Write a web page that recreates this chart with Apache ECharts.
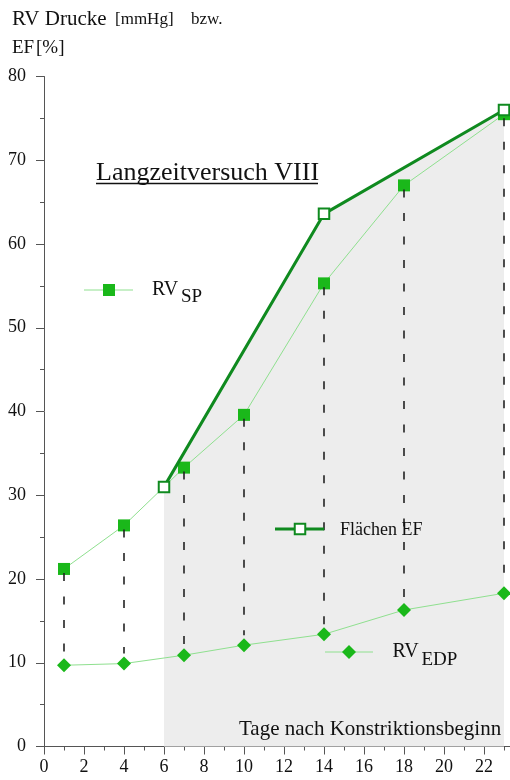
<!DOCTYPE html>
<html>
<head>
<meta charset="utf-8">
<script src="https://cdn.jsdelivr.net/npm/echarts@6/dist/echarts.min.js"></script>
<style>
  html, body { margin: 0; padding: 0; background: #fff; }
  #chart { width: 510px; height: 780px; }
</style>
</head>
<body>
<div id="chart"></div>
<script>
// Days after the start of constriction
const days = [1, 4, 7, 10, 14, 18, 23];
// Right-ventricular systolic pressure [mmHg]
const rvSP = [21.2, 26.4, 33.3, 39.6, 55.3, 67.0, 75.5];
// Right-ventricular end-diastolic pressure [mmHg]
const rvEDP = [9.7, 9.9, 10.9, 12.1, 13.4, 16.3, 18.3];
// Area ejection fraction [%]
const efDays = [6, 14, 23];
const efValues = [31.0, 63.6, 76.0];
// Axis ticks
const xTicks = [0, 2, 4, 6, 8, 10, 12, 14, 16, 18, 20, 22];
const yTicks = [0, 10, 20, 30, 40, 50, 60, 70, 80];

const SERIF = '"Liberation Serif", "Times New Roman", serif';
const MARK = '#1ab81a';
const LIGHT = '#8fe08f';
const DARK = '#0f8a1f';

const chart = echarts.init(document.getElementById('chart'), null, { renderer: 'canvas' });

const spData = days.map((d, i) => [d, rvSP[i]]);
const edpData = days.map((d, i) => [d, rvEDP[i]]);
const efData = efDays.map((d, i) => [d, efValues[i]]);
const dashData = days.map((d, i) => [d, rvSP[i], rvEDP[i]]);

const option = {
  animation: false,
  backgroundColor: '#fff',
  // the x axis runs on past the right edge of the canvas
  grid: { left: 44, right: -14, top: 76.5, bottom: 33.5, containLabel: false, outerBoundsMode: 'none' },
  xAxis: {
    type: 'value',
    min: 0, max: 24, interval: 2,
    axisLine: { lineStyle: { color: '#555', width: 1 } },
    axisTick: { length: 8, lineStyle: { color: '#555' } },
    minorTick: { show: true, splitNumber: 2, length: 4, lineStyle: { color: '#555' } },
    splitLine: { show: false },
    axisLabel: {
      margin: 12,
      fontFamily: SERIF, fontSize: 18, color: '#111',
      formatter: v => (xTicks.indexOf(v) >= 0 ? String(v) : '')
    }
  },
  yAxis: {
    type: 'value',
    min: 0, max: 80, interval: 10,
    axisLine: { show: true, lineStyle: { color: '#555', width: 1 } },
    axisTick: { show: true, length: 8, lineStyle: { color: '#555' } },
    minorTick: { show: true, splitNumber: 2, length: 4, lineStyle: { color: '#555' } },
    splitLine: { show: false },
    axisLabel: {
      margin: 18,
      fontFamily: SERIF, fontSize: 18, color: '#111',
      formatter: v => (yTicks.indexOf(v) >= 0 ? String(v) : '')
    }
  },
  series: [
    {
      // shaded region under the EF curve
      type: 'line',
      data: efData,
      symbol: 'none',
      lineStyle: { opacity: 0 },
      areaStyle: { color: '#ededed', opacity: 1 },
      z: 1,
      silent: true
    },
    {
      name: 'RV SP',
      type: 'line',
      data: spData,
      symbol: 'rect',
      symbolSize: 12,
      lineStyle: { color: LIGHT, width: 1 },
      itemStyle: { color: MARK },
      z: 3
    },
    {
      name: 'RV EDP',
      type: 'line',
      data: edpData,
      symbol: 'diamond',
      symbolSize: 14,
      lineStyle: { color: LIGHT, width: 1 },
      itemStyle: { color: MARK },
      z: 3
    },
    {
      name: 'Flächen EF',
      type: 'line',
      data: efData,
      symbol: 'rect',
      symbolSize: 10.5,
      lineStyle: { color: DARK, width: 3 },
      itemStyle: { color: '#fff', borderColor: DARK, borderWidth: 2 },
      z: 4
    },
    {
      // dashed connectors from SP down to just above EDP of the same day
      type: 'custom',
      data: dashData,
      z: 5,
      renderItem: function (params, api) {
        const top = api.coord([api.value(0), api.value(1)]);
        const bot = api.coord([api.value(0), api.value(2)]);
        return {
          type: 'line',
          shape: { x1: top[0], y1: top[1] + 4, x2: bot[0], y2: bot[1] - 10 },
          style: { stroke: '#222', lineWidth: 1.6, lineDash: [8, 15.5] }
        };
      }
    }
  ],
  graphic: [
    // y-axis caption
    { type: 'text', style: { text: 'RV Drucke', x: 12, y: 19, font: '21px ' + SERIF, fill: '#111', verticalAlign: 'middle' } },
    { type: 'text', style: { text: '[mmHg]', x: 115, y: 20, font: '17px ' + SERIF, fill: '#111', verticalAlign: 'middle' } },
    { type: 'text', style: { text: 'bzw.', x: 191, y: 20, font: '17px ' + SERIF, fill: '#111', verticalAlign: 'middle' } },
    { type: 'text', style: { text: 'EF', x: 12, y: 48, font: '19px ' + SERIF, fill: '#111', verticalAlign: 'middle' } },
    { type: 'text', style: { text: '[%]', x: 36, y: 48, font: '19px ' + SERIF, fill: '#111', verticalAlign: 'middle' } },
    // heading with underline
    { type: 'text', style: { text: 'Langzeitversuch VIII', x: 96, y: 173.5, font: '26px ' + SERIF, fill: '#111', verticalAlign: 'middle' } },
    { type: 'line', shape: { x1: 96, y1: 183.5, x2: 318, y2: 183.5 }, style: { stroke: '#111', lineWidth: 1.5 } },
    // x-axis caption
    { type: 'text', style: { text: 'Tage nach Konstriktionsbeginn', x: 239, y: 729.5, font: '21px ' + SERIF, fill: '#111', verticalAlign: 'middle' }, z: 10 },

    // key: RV SP
    { type: 'line', shape: { x1: 84, y1: 290, x2: 133, y2: 290 }, style: { stroke: LIGHT, lineWidth: 1 } },
    { type: 'rect', shape: { x: 103, y: 284, width: 12, height: 12 }, style: { fill: MARK } },
    { type: 'text', style: { text: 'RV', x: 152, y: 290, font: '20px ' + SERIF, fill: '#111', verticalAlign: 'middle' } },
    { type: 'text', style: { text: 'SP', x: 181, y: 297, font: '19px ' + SERIF, fill: '#111', verticalAlign: 'middle' } },

    // key: Flächen EF
    { type: 'line', shape: { x1: 275, y1: 529, x2: 324, y2: 529 }, style: { stroke: DARK, lineWidth: 3 }, z: 10 },
    { type: 'rect', shape: { x: 294.75, y: 523.75, width: 10.5, height: 10.5 }, style: { fill: '#fff', stroke: DARK, lineWidth: 2 }, z: 11 },
    { type: 'text', style: { text: 'Flächen EF', x: 340, y: 530, font: '18px ' + SERIF, fill: '#111', verticalAlign: 'middle' }, z: 10 },

    // key: RV EDP
    { type: 'line', shape: { x1: 325, y1: 652, x2: 373, y2: 652 }, style: { stroke: LIGHT, lineWidth: 1 }, z: 10 },
    { type: 'polygon', shape: { points: [[349, 645], [356, 652], [349, 659], [342, 652]] }, style: { fill: MARK }, z: 11 },
    { type: 'text', style: { text: 'RV', x: 392.5, y: 652, font: '20px ' + SERIF, fill: '#111', verticalAlign: 'middle' }, z: 10 },
    { type: 'text', style: { text: 'EDP', x: 421.5, y: 660, font: '19px ' + SERIF, fill: '#111', verticalAlign: 'middle' }, z: 10 }
  ]
};

chart.setOption(option);
</script>
</body>
</html>
